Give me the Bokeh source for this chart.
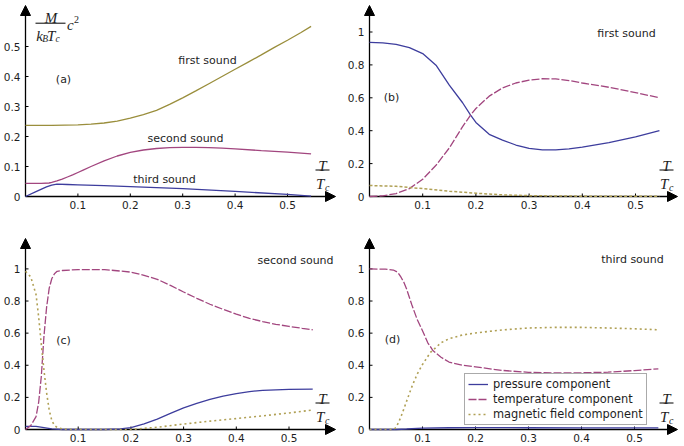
from bokeh.plotting import figure
from bokeh.models import (Label, Arrow, NormalHead, LinearAxis, FixedTicker,
                          CustomJSTickFormatter, Legend, LegendItem)
from bokeh.layouts import column, row
from bokeh.embed import file_html
from bokeh.resources import INLINE

# ---------------- data ----------------
x_ticks = [0.1, 0.2, 0.3, 0.4, 0.5]
y_ticks_a = [0.1, 0.2, 0.3, 0.4, 0.5]
y_ticks_bcd = [0.2, 0.4, 0.6, 0.8, 1]
origin_tick = [0]

# (a) sound speeds  M c^2 / (kB Tc)
a_first_x = [0, 0.05, 0.075, 0.1, 0.125, 0.15, 0.175, 0.2, 0.225, 0.25, 0.275, 0.3, 0.325, 0.35,
             0.375, 0.4, 0.425, 0.45, 0.475, 0.5, 0.525, 0.545]
a_first_y = [0.237, 0.237, 0.238, 0.239, 0.241, 0.245, 0.251, 0.261, 0.273, 0.287, 0.307, 0.329, 0.352, 0.376,
             0.4, 0.424, 0.448, 0.472, 0.497, 0.521, 0.546, 0.567]
a_second_x = [0, 0.03, 0.045, 0.05, 0.06, 0.07, 0.08, 0.09, 0.1, 0.11, 0.125, 0.15, 0.175, 0.2, 0.225,
              0.25, 0.275, 0.3, 0.325, 0.35, 0.375, 0.4, 0.45, 0.5, 0.545]
a_second_y = [0.044, 0.044, 0.045, 0.047, 0.052, 0.058, 0.065, 0.072, 0.08, 0.088, 0.1, 0.119, 0.135, 0.147, 0.155,
              0.16, 0.163, 0.164, 0.164, 0.163, 0.161, 0.159, 0.153, 0.148, 0.142]
a_third_x = [0, 0.02, 0.04, 0.05, 0.06, 0.08, 0.1, 0.15, 0.2, 0.3, 0.4, 0.5, 0.545]
a_third_y = [0, 0.016, 0.032, 0.038, 0.041, 0.04, 0.039, 0.036, 0.033, 0.026, 0.017, 0.007, 0.001]

# (b) first sound components
b_p_x = [0, 0.025, 0.05, 0.075, 0.1, 0.125, 0.15, 0.175, 0.19, 0.2, 0.225, 0.25, 0.275, 0.3, 0.325,
         0.35, 0.375, 0.4, 0.45, 0.5, 0.545]
b_p_y = [0.937, 0.934, 0.925, 0.905, 0.869, 0.798, 0.677, 0.57, 0.495, 0.45, 0.378, 0.343, 0.313, 0.293, 0.284,
         0.284, 0.29, 0.3, 0.328, 0.363, 0.4]
b_t_x = [0, 0.025, 0.05, 0.075, 0.1, 0.125, 0.15, 0.175, 0.19, 0.2, 0.225, 0.25, 0.275, 0.3, 0.325,
         0.35, 0.375, 0.4, 0.45, 0.5, 0.545]
b_t_y = [0, 0.004, 0.018, 0.048, 0.105, 0.19, 0.295, 0.425, 0.495, 0.535, 0.61, 0.66, 0.69, 0.707, 0.716,
         0.715, 0.705, 0.69, 0.664, 0.632, 0.6]
b_m_x = [0, 0.05, 0.1, 0.15, 0.2, 0.25, 0.3, 0.35, 0.4, 0.545]
b_m_y = [0.067, 0.062, 0.048, 0.032, 0.02, 0.01, 0.005, 0.003, 0.002, 0.002]

# (c) second sound components
c_p_x = [0, 0.02, 0.035, 0.05, 0.07, 0.15, 0.18, 0.2, 0.225, 0.25, 0.275, 0.3, 0.325, 0.35, 0.375,
         0.4, 0.425, 0.45, 0.5, 0.545]
c_p_y = [0.02, 0.02, 0.012, 0.004, 0, 0, 0.003, 0.012, 0.035, 0.065, 0.1, 0.135, 0.163, 0.187, 0.208,
         0.224, 0.236, 0.244, 0.25, 0.252]
c_t_x = [0, 0.01, 0.02, 0.025, 0.03, 0.035, 0.04, 0.045, 0.05, 0.055, 0.06, 0.07, 0.1, 0.15, 0.2,
         0.225, 0.25, 0.275, 0.3, 0.325, 0.35, 0.375, 0.4, 0.425, 0.45, 0.475, 0.5, 0.525, 0.545]
c_t_y = [0, 0.024, 0.08, 0.17, 0.33, 0.58, 0.76, 0.88, 0.94, 0.97, 0.985, 0.99, 0.996, 0.996, 0.98,
         0.96, 0.935, 0.897, 0.856, 0.817, 0.78, 0.748, 0.718, 0.692, 0.672, 0.655, 0.642, 0.63, 0.621]
c_m_x = [0, 0.01, 0.02, 0.025, 0.03, 0.035, 0.04, 0.045, 0.05, 0.055, 0.06, 0.07, 0.08, 0.2, 0.25,
         0.3, 0.35, 0.4, 0.45, 0.5, 0.545]
c_m_y = [0.985, 0.95, 0.84, 0.7, 0.53, 0.37, 0.23, 0.12, 0.055, 0.025, 0.012, 0.003, 0, 0, 0.014,
         0.034, 0.052, 0.068, 0.085, 0.103, 0.121]

# (d) third sound components
d_p_x = [0, 0.05, 0.07, 0.1, 0.15, 0.2, 0.3, 0.4, 0.5, 0.545]
d_p_y = [0, 0, 0.003, 0.008, 0.011, 0.012, 0.011, 0.01, 0.01, 0.01]
d_t_x = [0, 0.03, 0.045, 0.05, 0.055, 0.06, 0.065, 0.07, 0.08, 0.09, 0.1, 0.11, 0.12, 0.135, 0.15,
         0.175, 0.2, 0.25, 0.3, 0.35, 0.4, 0.45, 0.5, 0.545]
d_t_y = [1, 0.998, 0.993, 0.985, 0.97, 0.945, 0.915, 0.875, 0.775, 0.685, 0.615, 0.54, 0.49, 0.45, 0.42,
         0.4, 0.39, 0.368, 0.356, 0.352, 0.353, 0.357, 0.367, 0.378]
d_m_x = [0, 0.045, 0.05, 0.055, 0.06, 0.065, 0.07, 0.08, 0.09, 0.1, 0.115, 0.135, 0.15, 0.175, 0.2,
         0.25, 0.3, 0.35, 0.4, 0.45, 0.5, 0.545]
d_m_y = [0, 0, 0.012, 0.045, 0.085, 0.13, 0.176, 0.267, 0.345, 0.405, 0.48, 0.54, 0.565, 0.588, 0.601,
         0.62, 0.632, 0.636, 0.636, 0.632, 0.627, 0.621]

legend_labels = ["pressure component", "temperature component", "magnetic field component"]

# ---------------- style ----------------
BLUE = "#3d3d9d"
MAGENTA = "#a2467f"
OLIVE = "#9a8e3c"
OLIVE_DOT = "#b0a055"
TXT = "#1e1e1e"
FONT = "DejaVu Sans"
MATH = "Liberation Serif"
LW = 1.3
PAD = 6      # frame extends this many px beyond the drawn axes
TICK = 3     # tick mark length, px


def make_panel(w, h, ox, oy, sx, sy, tipx, tipy, yticks):
    """ox, oy: origin in canvas px; sx, sy: px per data unit; tipx, tipy: arrow tips."""
    fl, fb, ft, fr = ox - PAD, oy + PAD, tipy - 1, tipx + 2
    p = figure(width=w, height=h,
               x_range=(-PAD / sx, (fr - ox) / sx), y_range=(-PAD / sy, (oy - ft) / sy),
               output_backend="svg", toolbar_location=None,
               x_axis_type=None, y_axis_type=None,
               min_border_left=fl, min_border_right=w - fr,
               min_border_top=ft, min_border_bottom=h - fb)
    p.outline_line_color = None
    p.background_fill_color = "white"
    p.border_fill_color = "white"
    fmt = CustomJSTickFormatter(code="return String(tick);")
    for ticks, place, standoff in ((x_ticks, "below", -2), (origin_tick + yticks, "left", -1)):
        ax = LinearAxis(ticker=FixedTicker(ticks=ticks), formatter=fmt,
                        axis_line_color=None, major_tick_in=0, major_tick_out=0,
                        major_tick_line_color=None, minor_tick_line_color=None,
                        major_label_text_font=FONT, major_label_text_font_size="10.5px",
                        major_label_text_color=TXT, major_label_standoff=standoff)
        p.add_layout(ax, place)
    # axis lines with arrow heads through the origin
    head = dict(size=10, fill_color="black", line_color="black", line_width=1)
    p.add_layout(Arrow(x_start=0, y_start=0, x_end=(tipx - ox) / sx, y_end=0, line_width=LW,
                       line_color="black", end=NormalHead(**head), level="underlay"))
    p.add_layout(Arrow(x_start=0, y_start=0, x_end=0, y_end=(oy - tipy) / sy, line_width=LW,
                       line_color="black", end=NormalHead(**head), level="underlay"))
    # small inward tick marks at the tick values
    p.segment(x0=x_ticks, y0=[0] * len(x_ticks), x1=x_ticks, y1=[TICK / sy] * len(x_ticks),
              line_color="black", line_width=1)
    p.segment(x0=[0] * len(yticks), y0=yticks, x1=[TICK / sx] * len(yticks), y1=yticks,
              line_color="black", line_width=1)
    return p, sx, sy


def txt(panel, px, py, text, size="11px", font=FONT, style="normal",
        align="center", baseline="middle"):
    p, sx, sy = panel
    p.add_layout(Label(x=px / sx, y=py / sy, text=text, text_font=font,
                       text_font_size=size, text_font_style=style,
                       text_align=align, text_baseline=baseline, text_color=TXT))


def bar(panel, px0, px1, py):
    p, sx, sy = panel
    p.segment(x0=[px0 / sx], y0=[py / sy], x1=[px1 / sx], y1=[py / sy],
              line_color="black", line_width=1)


def t_over_tc(panel, cx=297):
    txt(panel, cx, 31, "T", size="15px", font=MATH, style="italic", baseline="alphabetic")
    bar(panel, cx - 7, cx + 7, 26.5)
    txt(panel, cx - 6.5, 12.5, "T", size="15px", font=MATH, style="italic",
        align="left", baseline="alphabetic")
    txt(panel, cx + 2.5, 9.5, "c", size="10px", font=MATH, style="italic",
        align="left", baseline="alphabetic")


# ---------------- panels ----------------
pa = make_panel(342, 223, 25, 196, 524, 300, 335, 5, y_ticks_a)
pb = make_panel(342, 223, 27, 196, 532, 164.5, 335, 5, y_ticks_bcd)
pc = make_panel(342, 223, 25, 206, 527, 160.6, 335, 15, y_ticks_bcd)
pd = make_panel(342, 223, 27, 206, 530, 160.6, 335, 15, y_ticks_bcd)

# (a)
p = pa[0]
p.line(a_first_x, a_first_y, line_color=OLIVE, line_width=LW)
p.line(a_second_x, a_second_y, line_color=MAGENTA, line_width=LW)
p.line(a_third_x, a_third_y, line_color=BLUE, line_width=LW)
txt(pa, 182, 136, "first sound")
txt(pa, 38, 117, "(a)")
txt(pa, 160, 58, "second sound")
txt(pa, 139, 17, "third sound")
t_over_tc(pa)
# y label  M / (k_B T_c) c^2
txt(pa, 25.5, 178.5, "M", size="15px", font=MATH, style="italic", baseline="alphabetic")
bar(pa, 10, 40, 173.3)
txt(pa, 10.7, 161, "k", size="15px", font=MATH, style="italic", align="left", baseline="alphabetic")
txt(pa, 16.8, 158, "B", size="9.5px", font=MATH, style="italic", align="left", baseline="alphabetic")
txt(pa, 21.5, 161, "T", size="15px", font=MATH, style="italic", align="left", baseline="alphabetic")
txt(pa, 30, 158, "c", size="9.5px", font=MATH, style="italic", align="left", baseline="alphabetic")
txt(pa, 41.4, 172, "c", size="15px", font=MATH, style="italic", align="left", baseline="alphabetic")
txt(pa, 48.5, 177, "2", size="10px", font=MATH, align="left", baseline="alphabetic")

# (b)
p = pb[0]
p.line(b_p_x, b_p_y, line_color=BLUE, line_width=LW)
p.line(b_t_x, b_t_y, line_color=MAGENTA, line_width=LW, line_dash="8 2")
p.line(b_m_x, b_m_y, line_color=OLIVE_DOT, line_width=1.5, line_dash="3 2")
txt(pb, 257, 163, "first sound")
txt(pb, 22, 99, "(b)")
t_over_tc(pb)

# (c)
p = pc[0]
p.line(c_p_x, c_p_y, line_color=BLUE, line_width=LW)
p.line(c_t_x, c_t_y, line_color=MAGENTA, line_width=LW, line_dash="8 2")
p.line(c_m_x, c_m_y, line_color=OLIVE_DOT, line_width=1.6, line_dash="2 3")
txt(pc, 270, 169, "second sound")
txt(pc, 38, 89, "(c)")
t_over_tc(pc)

# (d)
p = pd[0]
rp = p.line(d_p_x, d_p_y, line_color=BLUE, line_width=LW)
rt = p.line(d_t_x, d_t_y, line_color=MAGENTA, line_width=LW, line_dash="8 2")
rm = p.line(d_m_x, d_m_y, line_color=OLIVE_DOT, line_width=1.6, line_dash="2 3")
txt(pd, 263, 170, "third sound")
txt(pd, 23, 90, "(d)")
t_over_tc(pd)
legend = Legend(items=[LegendItem(label=legend_labels[0], renderers=[rp]),
                       LegendItem(label=legend_labels[1], renderers=[rt]),
                       LegendItem(label=legend_labels[2], renderers=[rm])],
                location=(101, 10), orientation="vertical",
                label_text_font=FONT, label_text_font_size="11.4px", label_text_color=TXT,
                label_height=14, glyph_height=14, glyph_width=20, label_standoff=5,
                padding=3, spacing=1, margin=0,
                border_line_color="#555555", border_line_width=1,
                background_fill_color="white", background_fill_alpha=1.0)
p.add_layout(legend, "center")

layout = column(row(pa[0], pb[0]), row(pc[0], pd[0]))
open("out.html", "w").write(file_html(layout, INLINE))
